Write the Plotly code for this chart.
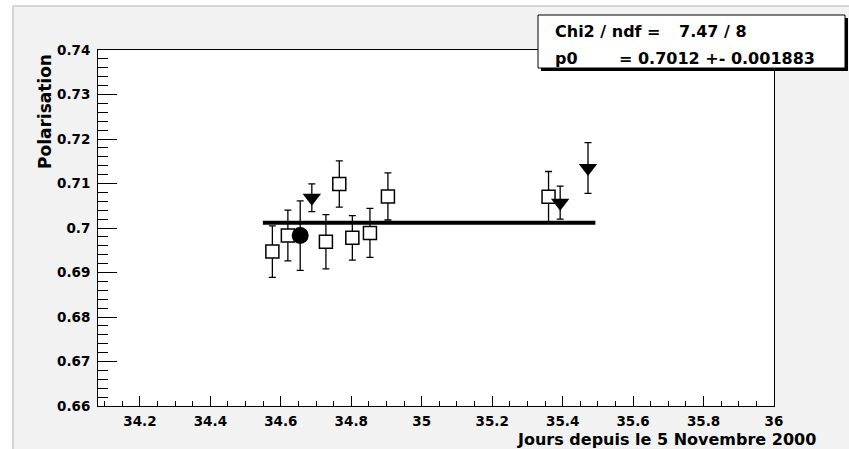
import plotly.graph_objects as go

# ---- data ----
sq_x = [34.576, 34.620, 34.728, 34.766, 34.803, 34.853, 34.904, 35.360]
sq_y = [0.6947, 0.6983, 0.6969, 0.7099, 0.6978, 0.6989, 0.7071, 0.7070]
sq_err = [0.0058, 0.0057, 0.0061, 0.0052, 0.0050, 0.0055, 0.0053, 0.0057]

tri_x = [34.688, 35.393, 35.472]
tri_y = [0.7068, 0.7057, 0.7135]
tri_err = [0.0031, 0.0037, 0.0057]

circ_x = [34.655]
circ_y = [0.6983]
circ_err = [0.0078]

fit_p0 = 0.7012
fit_x = [34.549, 35.493]

x_range = [34.081, 36.0]
y_range = [0.66, 0.74]

stats_row1 = ["Chi2 / ndf =", "7.47 / 8"]
stats_row2 = ["p0", "= 0.7012 +- 0.001883"]
x_title = "Jours depuis le 5 Novembre 2000"
y_title = "Polarisation"

# ---- geometry (pixels) ----
W, H = 849, 449
L, R, T, B = 98, 774, 50, 406


def px(xp):
    return (xp - L) / (R - L)


def py(yp):
    return (B - yp) / (B - T)


FONT = "DejaVu Sans"
err_style = dict(type="data", visible=True, color="black", thickness=1.3, width=3.5)

fig = go.Figure()
fig.add_trace(go.Scatter(
    x=sq_x, y=sq_y, mode="markers",
    error_y=dict(array=sq_err, **err_style),
    marker=dict(symbol="square", size=13, color="white", line=dict(color="black", width=1.5)),
    showlegend=False))
fig.add_trace(go.Scatter(
    x=tri_x, y=tri_y, mode="markers",
    error_y=dict(array=tri_err, **err_style),
    marker=dict(symbol="triangle-down", size=16, color="black", line=dict(width=0)),
    showlegend=False))
fig.add_trace(go.Scatter(
    x=circ_x, y=circ_y, mode="markers",
    error_y=dict(array=circ_err, **err_style),
    marker=dict(symbol="circle", size=17, color="black", line=dict(width=0)),
    showlegend=False))
fig.add_trace(go.Scatter(
    x=fit_x, y=[fit_p0] * len(fit_x), mode="lines",
    line=dict(color="black", width=4), showlegend=False))

tickfont = dict(family=FONT, size=13.5, color="black", weight="bold")

fig.update_xaxes(
    range=x_range, showgrid=False, zeroline=False,
    showline=True, linecolor="black", linewidth=1, mirror=True,
    ticks="inside", ticklen=10, tickwidth=1, tickcolor="black",
    tick0=34.2, dtick=0.2, tickfont=tickfont, ticklabelstandoff=3,
    minor=dict(ticks="inside", ticklen=5, tickwidth=1, tickcolor="black", dtick=0.05, tick0=34.2, showgrid=False),
)
fig.update_yaxes(
    range=y_range, showgrid=False, zeroline=False,
    showline=True, linecolor="black", linewidth=1, mirror=True,
    ticks="inside", ticklen=19, tickwidth=1, tickcolor="black",
    tick0=0.66, dtick=0.01, tickfont=tickfont, ticklabelstandoff=4,
    minor=dict(ticks="inside", ticklen=10, tickwidth=1, tickcolor="black", dtick=0.002, tick0=0.66, showgrid=False),
)

shapes = []
# white strips outside the canvas border
shapes.append(dict(type="rect", xref="paper", yref="paper", layer="below",
                   x0=px(0), x1=px(13), y0=py(H), y1=py(0), fillcolor="white", line=dict(width=0)))
shapes.append(dict(type="rect", xref="paper", yref="paper", layer="below",
                   x0=px(0), x1=px(W), y0=py(6), y1=py(0), fillcolor="white", line=dict(width=0)))
# canvas border lines
shapes.append(dict(type="line", xref="paper", yref="paper", layer="below",
                   x0=px(13), x1=px(13), y0=py(6), y1=py(H), line=dict(color="#c8c8c8", width=1.5)))
shapes.append(dict(type="line", xref="paper", yref="paper", layer="below",
                   x0=px(13), x1=px(W), y0=py(6), y1=py(6), line=dict(color="#c8c8c8", width=1.5)))
# stats box shadow + box
shapes.append(dict(type="rect", xref="paper", yref="paper", layer="above",
                   x0=px(541), x1=px(848), y0=py(71), y1=py(18), fillcolor="black", line=dict(width=0)))
shapes.append(dict(type="rect", xref="paper", yref="paper", layer="above",
                   x0=px(538), x1=px(845), y0=py(68), y1=py(15), fillcolor="white",
                   line=dict(color="black", width=1)))

statfont = dict(family=FONT, size=16, color="black", weight="bold")
annotations = [
    dict(text=stats_row1[0], x=px(553), y=py(32), xref="paper", yref="paper",
         xanchor="left", yanchor="middle", showarrow=False, font=statfont),
    dict(text=stats_row1[1], x=px(677), y=py(32), xref="paper", yref="paper",
         xanchor="left", yanchor="middle", showarrow=False, font=statfont),
    dict(text=stats_row2[0], x=px(553), y=py(58), xref="paper", yref="paper",
         xanchor="left", yanchor="middle", showarrow=False, font=statfont),
    dict(text=stats_row2[1], x=px(617), y=py(58), xref="paper", yref="paper",
         xanchor="left", yanchor="middle", showarrow=False, font=statfont),
    dict(text=x_title, x=px(818), y=py(439), xref="paper", yref="paper",
         xanchor="right", yanchor="middle", showarrow=False,
         font=dict(family=FONT, size=16, color="black", weight="bold")),
    dict(text=y_title, x=px(45), y=py(112), xref="paper", yref="paper",
         xanchor="center", yanchor="middle", showarrow=False, textangle=-90,
         font=dict(family=FONT, size=17, color="black", weight="bold")),
]

fig.update_layout(
    width=W, height=H,
    margin=dict(l=L, r=W - R, t=T, b=H - B, pad=0),
    paper_bgcolor="#f2f2f2", plot_bgcolor="white",
    shapes=shapes, annotations=annotations,
)

fig.write_html("out.html")
